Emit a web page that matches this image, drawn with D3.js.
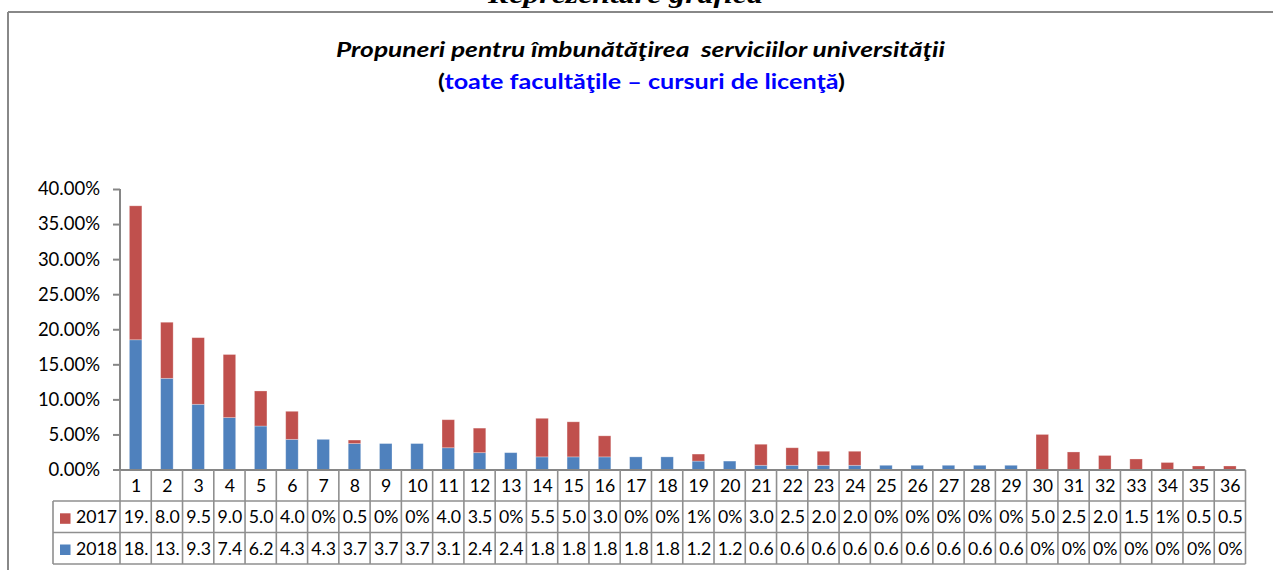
<!DOCTYPE html>
<html>
<head>
<meta charset="utf-8">
<script src="https://cdn.jsdelivr.net/npm/d3@7"></script>
<style>
  html, body { margin: 0; padding: 0; background: #fff; }
  svg { display: block; }
</style>
</head>
<body>
<svg id="chart" width="1273" height="570"></svg>
<script>
// ---------------- DATA ----------------
const categories = ["1","2","3","4","5","6","7","8","9","10","11","12","13","14","15","16","17","18",
  "19","20","21","22","23","24","25","26","27","28","29","30","31","32","33","34","35","36"];
const seriesNames = ["2017", "2018"];
const values2017 = [19.1, 8.0, 9.5, 9.0, 5.0, 4.0, 0, 0.5, 0, 0, 4.0, 3.5, 0, 5.5, 5.0, 3.0, 0, 0,
  1.0, 0, 3.0, 2.5, 2.0, 2.0, 0, 0, 0, 0, 0, 5.0, 2.5, 2.0, 1.5, 1.0, 0.5, 0.5];
const values2018 = [18.5, 13.0, 9.3, 7.4, 6.2, 4.3, 4.3, 3.7, 3.7, 3.7, 3.1, 2.4, 2.4, 1.8, 1.8, 1.8, 1.8, 1.8,
  1.2, 1.2, 0.6, 0.6, 0.6, 0.6, 0.6, 0.6, 0.6, 0.6, 0.6, 0, 0, 0, 0, 0, 0, 0];
const labels2017 = ["19.","8.0","9.5","9.0","5.0","4.0","0%","0.5","0%","0%","4.0","3.5","0%","5.5","5.0","3.0","0%","0%",
  "1%","0%","3.0","2.5","2.0","2.0","0%","0%","0%","0%","0%","5.0","2.5","2.0","1.5","1%","0.5","0.5"];
const labels2018 = ["18.","13.","9.3","7.4","6.2","4.3","4.3","3.7","3.7","3.7","3.1","2.4","2.4","1.8","1.8","1.8","1.8","1.8",
  "1.2","1.2","0.6","0.6","0.6","0.6","0.6","0.6","0.6","0.6","0.6","0%","0%","0%","0%","0%","0%","0%"];
const yTicks = [0, 5, 10, 15, 20, 25, 30, 35, 40];
const yTickLabels = ["0.00%","5.00%","10.00%","15.00%","20.00%","25.00%","30.00%","35.00%","40.00%"];

// ---------------- STYLE / LAYOUT ----------------
const colors = { "2017": "#C0504D", "2018": "#4F81BD" };
const axisColor = "#868686";
const gridColor = "#8f8f8f";
const font = "Lato, 'Open Sans', sans-serif";

const svg = d3.select("#chart");
svg.append("rect").attr("width", 1273).attr("height", 570).attr("fill", "#fff");

// Outer chart frame (top + left visible)
svg.append("path")
  .attr("d", "M8,12 H1273 M8,12 V570")
  .attr("fill", "none").attr("stroke", "#888").attr("stroke-width", 2);

// Heading above the frame (cut off at the top edge, as in the source)
svg.append("text")
  .attr("x", 488).attr("y", 3)
  .attr("textLength", 275).attr("lengthAdjust", "spacingAndGlyphs")
  .attr("font-family", "'Liberation Serif', 'Times New Roman', serif")
  .attr("font-weight", "bold").attr("font-style", "italic")
  .attr("font-size", 26).attr("fill", "#000")
  .text("Reprezentare grafică");

// Titles
svg.append("text")
  .attr("x", 336).attr("y", 57)
  .attr("textLength", 609).attr("lengthAdjust", "spacingAndGlyphs")
  .attr("font-family", font).attr("font-weight", "bold").attr("font-style", "italic")
  .attr("font-size", 21.5).attr("fill", "#000")
  .style("white-space", "pre")
  .text("Propuneri pentru îmbunătăţirea  serviciilor universităţii");

const t2 = svg.append("text")
  .attr("x", 438).attr("y", 89)
  .attr("textLength", 407).attr("lengthAdjust", "spacingAndGlyphs")
  .attr("font-family", font).attr("font-weight", "bold")
  .attr("font-size", 21).attr("fill", "#000");
t2.append("tspan").text("(");
t2.append("tspan").attr("fill", "#0000ff").text("toate facultăţile – cursuri de licenţă");
t2.append("tspan").text(")");

// Scales
const x = d3.scaleBand().domain(categories).range([120, 1245.5]).padding(0);
const y = d3.scaleLinear().domain([0, 40]).range([469.5, 189]);

// Stack
const rows = categories.map((c, i) => ({ cat: c, "2018": values2018[i], "2017": values2017[i] }));
const stack = d3.stack().keys(["2018", "2017"])(rows);

const barW = x.bandwidth() * 0.4;
const gBars = svg.append("g");
stack.forEach(layer => {
  gBars.selectAll(null).data(layer).enter().append("rect")
    .attr("x", d => x(d.data.cat) + (x.bandwidth() - barW) / 2)
    .attr("y", d => y(d[1]))
    .attr("width", barW)
    .attr("height", d => Math.max(0, y(d[0]) - y(d[1])))
    .attr("fill", colors[layer.key])
    .attr("stroke", "rgba(255,255,255,0.35)")
    .attr("stroke-width", d => (d[1] - d[0]) > 0 ? 0.8 : 0);
});

// Y axis
const yAxis = d3.axisLeft(y).tickValues(yTicks)
  .tickFormat((d, i) => yTickLabels[i]).tickSize(7).tickPadding(13);
const gy = svg.append("g").attr("transform", "translate(120,0)").call(yAxis);
gy.select(".domain").attr("stroke", axisColor).attr("stroke-width", 2).attr("d", "M0,189V470");
gy.selectAll(".tick line").attr("stroke", axisColor).attr("stroke-width", 2);
gy.selectAll(".tick text").attr("font-family", font).attr("font-size", 18.5).attr("fill", "#000");

// ---------------- DATA TABLE ----------------
const r0 = 470, r1 = 501, r2 = 532.5, r3 = 564;
const legLeft = 53, tRight = 1245.5;
const gT = svg.append("g");
gT.append("line").attr("x1", 113).attr("x2", tRight).attr("y1", r0).attr("y2", r0)
  .attr("stroke", axisColor).attr("stroke-width", 2);
[r1, r2, r3].forEach(yy => {
  gT.append("line").attr("x1", legLeft).attr("x2", tRight).attr("y1", yy).attr("y2", yy)
    .attr("stroke", gridColor).attr("stroke-width", 1.6);
});
categories.forEach(c => {
  gT.append("line").attr("x1", x(c)).attr("x2", x(c)).attr("y1", r0).attr("y2", r3)
    .attr("stroke", gridColor).attr("stroke-width", 1.6);
});
gT.append("line").attr("x1", tRight).attr("x2", tRight).attr("y1", r0).attr("y2", r3)
  .attr("stroke", gridColor).attr("stroke-width", 1.6);
gT.append("line").attr("x1", legLeft).attr("x2", legLeft).attr("y1", r1).attr("y2", r3)
  .attr("stroke", gridColor).attr("stroke-width", 1.6);

const cellFont = 17.7;
function rowText(labels, base) {
  gT.selectAll(null).data(labels).enter().append("text")
    .attr("x", (d, i) => x(categories[i]) + x.bandwidth() / 2 + 0.5)
    .attr("y", base)
    .attr("text-anchor", "middle")
    .attr("font-family", font).attr("font-size", cellFont).attr("fill", "#000")
    .text(d => d);
}
rowText(categories, 491.7);
rowText(labels2017, 523.3);
rowText(labels2018, 555);

[[seriesNames[0], 513.3, 523.3], [seriesNames[1], 544.5, 555]].forEach(([name, top, base]) => {
  gT.append("rect").attr("x", 60).attr("y", top).attr("width", 10.5).attr("height", 10.5)
    .attr("fill", colors[name]);
  gT.append("text").attr("x", 76).attr("y", base)
    .attr("font-family", font).attr("font-size", cellFont).attr("fill", "#000")
    .text(name);
});
</script>
</body>
</html>
